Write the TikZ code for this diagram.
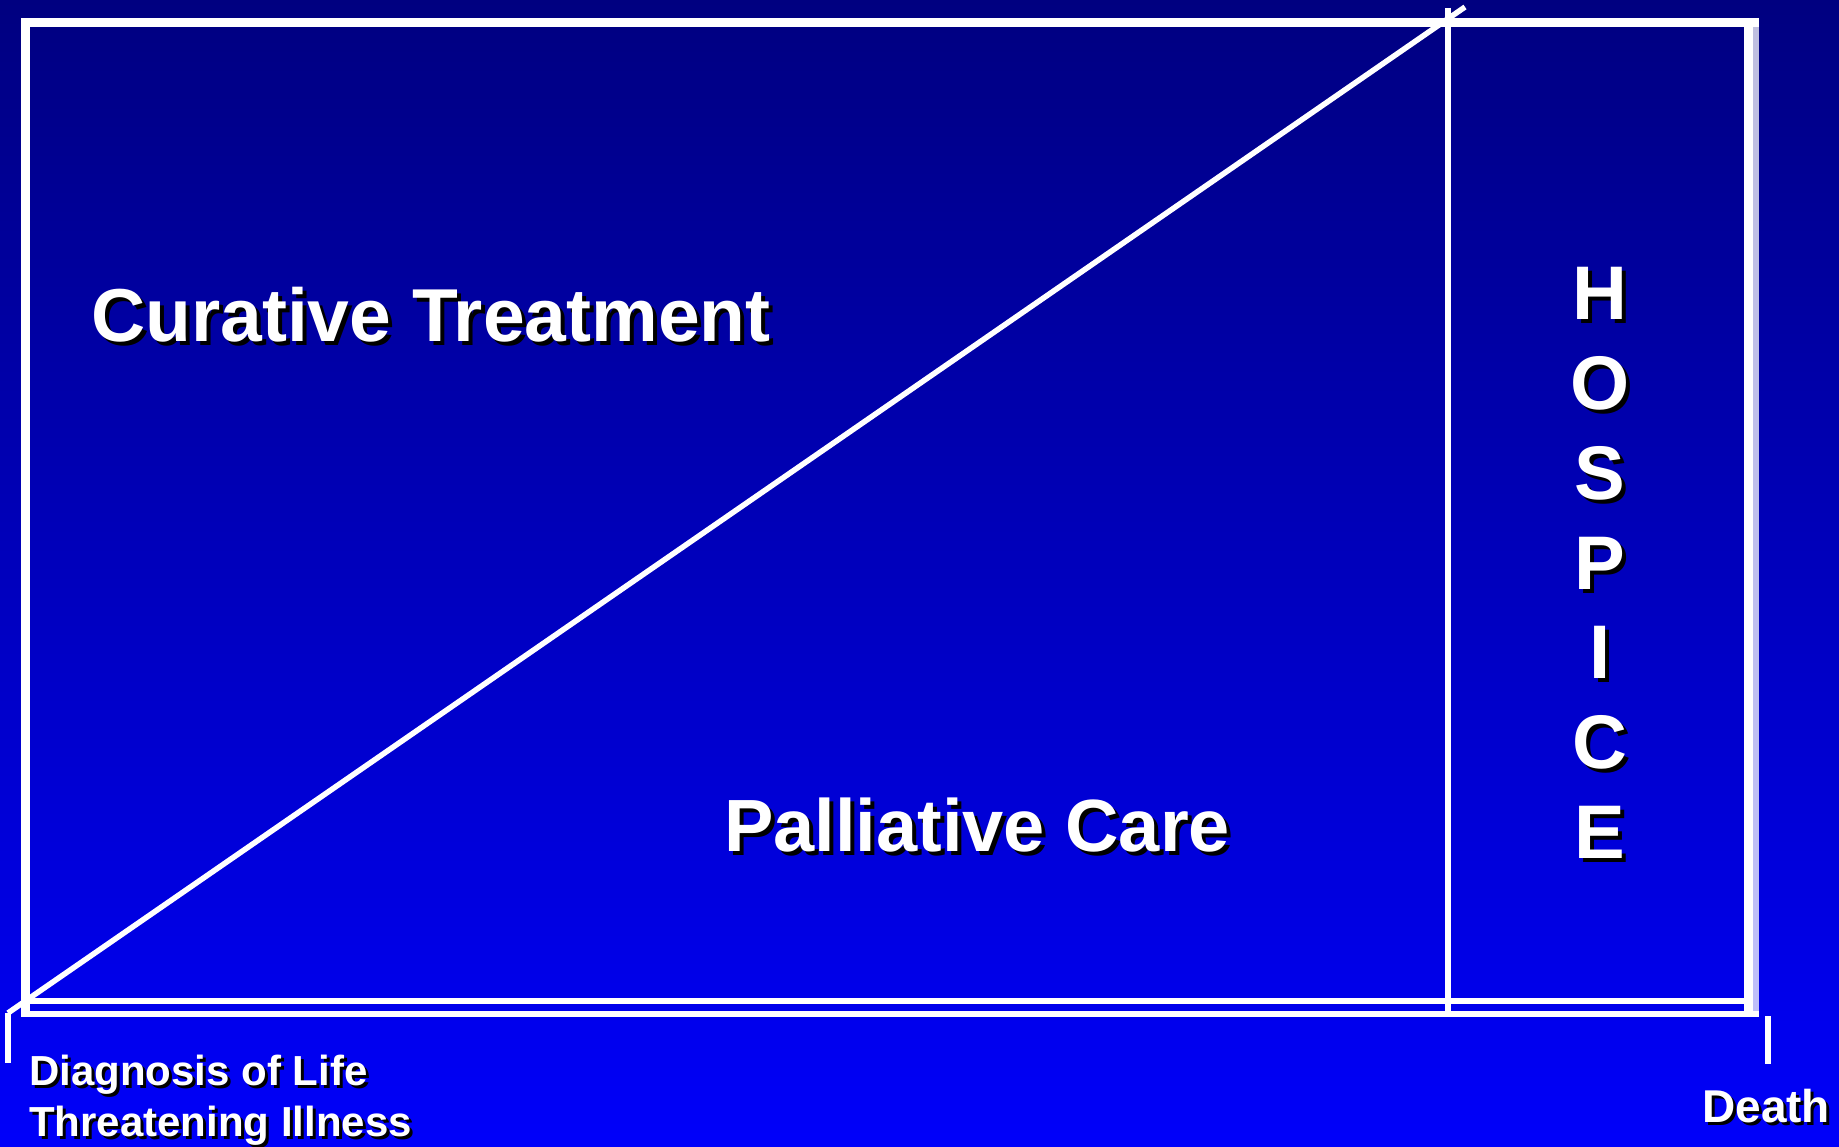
\documentclass[tikz,border=0pt]{standalone}
\usepackage{fontspec}
\setmainfont{Liberation Sans}
\definecolor{bgtop}{RGB}{0,0,128}
\definecolor{bgbot}{RGB}{0,0,250}
\tikzset{
  frameline/.style={draw=white, line width=#1, line cap=rect},
  txt/.style={inner sep=0pt, anchor=base west, text=white, font=\bfseries},
  txtshadow/.style={inner sep=0pt, anchor=base west, text=black, font=\bfseries},
  letter/.style={inner sep=0pt, anchor=base, text=white, font=\bfseries\fontsize{76}{80}\selectfont},
  lettershadow/.style={inner sep=0pt, anchor=base, text=black, font=\bfseries\fontsize{76}{80}\selectfont},
}
\begin{document}
\begin{tikzpicture}[x=1pt,y=-1pt]
\useasboundingbox (0,0) rectangle (1839,1147);
\shade[top color=bgtop, bottom color=bgbot] (0,0) rectangle (1839,1147);

% frame
\draw[frameline=9pt] (25.5,22.5) -- (25.5,1012.5);
\draw[frameline=9pt] (25.5,22.5) -- (1754.5,22.5);
\draw[frameline=9pt] (1748.5,22.5) -- (1748.5,1012.5);
\draw[draw=white, opacity=0.75, line width=6pt] (1756,18) -- (1756,1017);
\draw[frameline=6pt] (24,1001) -- (1748,1001);
\draw[frameline=6pt] (24,1014) -- (1756,1014);

% hospice divider
\coordinate (hdTop) at (1448,8);
\coordinate (hdBot) at (1448,1011);
\draw[draw=white, line width=6pt] (hdTop) -- (hdBot);

% diagonal
\coordinate (dgStart) at (8,1013);
\coordinate (dgEnd) at (1465,7);
\draw[draw=white, line width=5.5pt] (dgStart) -- (dgEnd);

% ticks
\coordinate (tkLa) at (8,1013);
\coordinate (tkLb) at (8,1063);
\draw[draw=white, line width=6pt] (tkLa) -- (tkLb);
\coordinate (tkRa) at (1768,1016);
\coordinate (tkRb) at (1768,1064);
\draw[draw=white, line width=6pt] (tkRa) -- (tkRb);

% texts
\node[txtshadow, font=\bfseries\fontsize{75}{90}\selectfont] (cts) at (95,346) {Curative Treatment};
\node[txt, font=\bfseries\fontsize{75}{90}\selectfont] (ct) at (91,342) {Curative Treatment};

\node[txtshadow, font=\bfseries\fontsize{74}{90}\selectfont] (pcs) at (728,855) {Palliative Care};
\node[txt, font=\bfseries\fontsize{74}{90}\selectfont] (pc) at (724,851) {Palliative Care};

\node[txtshadow, font=\bfseries\fontsize{42}{50}\selectfont] (dg1s) at (32,1088) {Diagnosis of Life};
\node[txt, font=\bfseries\fontsize{42}{50}\selectfont] (dg1) at (29,1085) {Diagnosis of Life};
\node[txtshadow, font=\bfseries\fontsize{42}{50}\selectfont] (dg2s) at (32,1139) {Threatening Illness};
\node[txt, font=\bfseries\fontsize{42}{50}\selectfont] (dg2) at (29,1136) {Threatening Illness};

\node[txtshadow, font=\bfseries\fontsize{46}{50}\selectfont] (dts) at (1705,1125) {Death};
\node[txt, font=\bfseries\fontsize{46}{50}\selectfont] (dt) at (1702,1122) {Death};

% HOSPICE
\foreach \L/\yy [count=\i] in {H/320,O/409.7,S/499.3,P/589,I/678.7,C/768.3,E/858}{
  \node[lettershadow] (hs\i) at (1604,\yy+4) {\L};
  \node[letter] (h\i) at (1600,\yy) {\L};
}
\end{tikzpicture}
\end{document}
